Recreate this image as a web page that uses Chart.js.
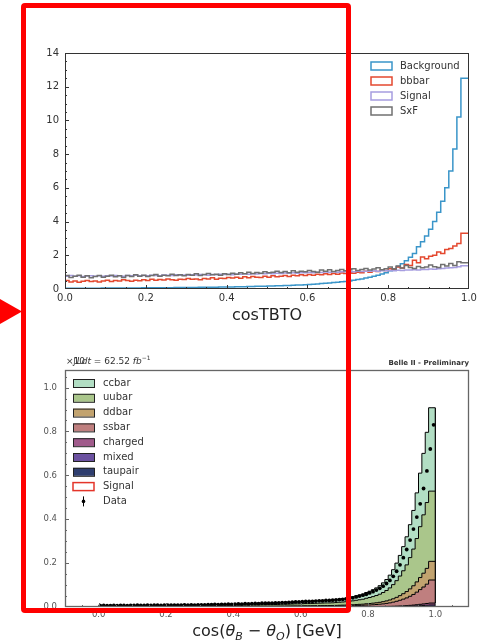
<!DOCTYPE html>
<html><head><meta charset="utf-8">
<script src="https://cdn.jsdelivr.net/npm/chart.js@4.4.0/dist/chart.umd.min.js"></script>
<style>
html,body{margin:0;padding:0;background:#fff;width:483px;height:643px;overflow:hidden;}
#c1{position:absolute;left:0;top:0;}
#c2{position:absolute;left:0;top:340px;}
#box{position:absolute;left:21px;top:3px;width:320px;height:600px;border:5px solid #ff0000;border-radius:4px;pointer-events:none;}
#arrow{position:absolute;left:0;top:299px;width:22px;height:25px;background:#ff0000;clip-path:polygon(0 0,100% 50%,0 100%);}
</style></head>
<body>
<canvas id="c1" width="483" height="330"></canvas>
<canvas id="c2" width="483" height="303"></canvas>
<div id="box"></div>
<div id="arrow"></div>
<script>
// ---------------- TOP PANEL DATA (100 bins over [0,1]) ----------------
const topRange = [0, 1];
const topSeriesNames = ['Background', 'bbbar', 'Signal', 'SxF'];
const background = [
 .04,.04,.045,.045,.045,.05,.05,.05,.05,.05,
 .055,.055,.055,.06,.06,.06,.06,.065,.065,.065,
 .07,.07,.07,.075,.075,.08,.08,.08,.085,.085,
 .09,.09,.095,.095,.10,.10,.105,.11,.11,.115,
 .12,.12,.125,.13,.135,.14,.145,.15,.16,.165,
 .17,.175,.18,.19,.20,.205,.21,.22,.23,.24,
 .25,.265,.28,.30,.32,.335,.355,.38,.40,.425,
 .45,.48,.52,.56,.60,.65,.70,.76,.82,.89,
 .97,1.08,1.20,1.34,1.50,1.68,1.88,2.10,2.50,2.80,
 3.15,3.55,4.00,4.55,5.20,6.00,7.00,8.30,10.2,12.5];
const bbbar = [
 .45,.50,.42,.48,.40,.46,.50,.44,.47,.42,
 .48,.52,.45,.50,.47,.55,.50,.46,.52,.49,
 .55,.50,.58,.52,.56,.54,.60,.55,.52,.58,
 .56,.62,.58,.60,.55,.63,.60,.66,.58,.64,
 .62,.68,.65,.70,.64,.72,.66,.74,.70,.68,
 .75,.70,.78,.72,.76,.80,.74,.82,.78,.85,
 .80,.86,.82,.88,.84,.90,.86,.92,.88,.95,
 .92,.98,.94,1.00,.96,1.05,1.00,1.08,1.04,1.12,
 1.10,1.20,1.15,1.30,1.25,1.45,1.40,1.70,1.55,1.90,
 1.80,1.95,2.00,2.20,2.10,2.35,2.40,2.55,2.70,3.30];
const signalTop = [
 .78,.75,.80,.76,.78,.74,.77,.79,.75,.78,
 .76,.79,.77,.80,.78,.76,.80,.78,.81,.79,
 .80,.78,.82,.80,.79,.83,.81,.80,.84,.82,
 .83,.81,.85,.83,.86,.84,.82,.86,.85,.87,
 .86,.88,.85,.89,.87,.90,.88,.91,.89,.92,
 .90,.93,.91,.94,.92,.95,.93,.96,.94,.97,
 .96,.98,.97,1.00,.98,1.01,.99,1.02,1.00,1.03,
 1.02,1.04,1.03,1.05,1.04,1.06,1.05,1.08,1.06,1.09,
 1.08,1.10,1.09,1.11,1.10,1.13,1.12,1.14,1.13,1.15,
 1.16,1.18,1.17,1.20,1.22,1.24,1.26,1.28,1.32,1.38];
const sxf = [
 .72,.80,.68,.75,.82,.70,.78,.66,.74,.80,
 .70,.76,.82,.72,.78,.68,.80,.74,.84,.76,
 .82,.74,.80,.86,.76,.82,.78,.88,.80,.84,
 .78,.86,.82,.90,.80,.86,.92,.84,.88,.82,
 .90,.86,.94,.88,.96,.90,1.00,.92,.98,.94,
 1.02,.96,1.00,1.06,.98,1.04,.96,1.08,1.00,1.06,
 1.02,1.10,1.04,1.00,1.12,1.06,1.14,1.04,1.10,1.16,
 1.08,1.14,1.20,1.10,1.16,1.22,1.12,1.18,1.26,1.14,
 1.20,1.30,1.18,1.36,1.24,1.40,1.28,1.22,1.34,1.26,
 1.30,1.42,1.32,1.28,1.46,1.36,1.52,1.40,1.62,1.56];
const topXTicks = [0, 0.2, 0.4, 0.6, 0.8, 1.0];
const topYTicks = [0, 2, 4, 6, 8, 10, 12, 14];

// ---------------- BOTTOM PANEL DATA (100 bins over [0,1]) ----------------
const botRange = [0, 1];
const botLegendNames = ['ccbar','uubar','ddbar','ssbar','charged','mixed','taupair','Signal','Data'];
const ccbar = [
 .0024,.0024,.0024,.0028,.0024,.0028,.0028,.0024,.0028,.0028,
 .0028,.0028,.0032,.0028,.0032,.0032,.0028,.0032,.0032,.0032,
 .0032,.0036,.0032,.0036,.0036,.0036,.0040,.0036,.0040,.0040,
 .0040,.0044,.0040,.0044,.0044,.0048,.0044,.0048,.0048,.0052,
 .0052,.0056,.0056,.0056,.0060,.0060,.0064,.0064,.0068,.0068,
 .0072,.0072,.0076,.0076,.0080,.0084,.0084,.0088,.0092,.0096,
 .0096,.0100,.0104,.0104,.0108,.0112,.0116,.0120,.0124,.0124,
 .0128,.0136,.0144,.0152,.0160,.0172,.0188,.0204,.0220,.0236,
 .0264,.0288,.0316,.0348,.0388,.0440,.0500,.0580,.0680,.0800,
 .0940,.1100,.1280,.1500,.1760,.2080,.2440,.2800,.3200,.3800];
const uubar = [
 .0023,.0023,.0023,.0027,.0023,.0027,.0027,.0023,.0027,.0027,
 .0027,.0027,.0030,.0027,.0030,.0030,.0027,.0030,.0030,.0030,
 .0030,.0034,.0030,.0034,.0034,.0034,.0038,.0034,.0038,.0038,
 .0038,.0042,.0038,.0042,.0042,.0046,.0042,.0046,.0046,.0049,
 .0049,.0053,.0053,.0053,.0057,.0057,.0061,.0061,.0065,.0065,
 .0068,.0068,.0072,.0072,.0076,.0080,.0080,.0084,.0087,.0091,
 .0091,.0095,.0099,.0099,.0103,.0106,.0110,.0114,.0118,.0118,
 .0122,.0129,.0137,.0144,.0152,.0163,.0179,.0194,.0209,.0224,
 .0251,.0274,.0300,.0331,.0369,.0418,.0475,.0551,.0646,.0760,
 .0893,.1045,.1216,.1425,.1672,.1976,.2318,.2660,.3000,.3200];
const ddbar = [
 .0005,.0005,.0005,.0006,.0005,.0006,.0006,.0005,.0006,.0006,
 .0006,.0006,.0007,.0006,.0007,.0007,.0006,.0007,.0007,.0007,
 .0007,.0008,.0007,.0008,.0008,.0008,.0009,.0008,.0009,.0009,
 .0009,.0010,.0009,.0010,.0010,.0011,.0010,.0011,.0011,.0012,
 .0012,.0013,.0013,.0013,.0014,.0014,.0014,.0014,.0015,.0015,
 .0016,.0016,.0017,.0017,.0018,.0019,.0019,.0020,.0021,.0022,
 .0022,.0023,.0023,.0023,.0024,.0025,.0026,.0027,.0028,.0028,
 .0029,.0031,.0032,.0034,.0036,.0039,.0042,.0046,.0050,.0053,
 .0059,.0065,.0071,.0078,.0087,.0099,.0113,.0131,.0153,.0180,
 .0212,.0248,.0288,.0338,.0396,.0468,.0549,.0630,.0720,.0850];
const ssbar = [
 .0007,.0007,.0007,.0008,.0007,.0008,.0008,.0007,.0008,.0008,
 .0008,.0008,.0009,.0008,.0009,.0009,.0008,.0009,.0009,.0009,
 .0009,.0010,.0009,.0010,.0010,.0010,.0011,.0010,.0011,.0011,
 .0011,.0012,.0011,.0012,.0012,.0013,.0012,.0013,.0013,.0014,
 .0014,.0015,.0015,.0015,.0017,.0017,.0018,.0018,.0019,.0019,
 .0020,.0020,.0021,.0021,.0022,.0023,.0023,.0024,.0025,.0026,
 .0026,.0028,.0029,.0029,.0030,.0031,.0032,.0033,.0034,.0034,
 .0035,.0037,.0040,.0042,.0044,.0047,.0052,.0056,.0061,.0065,
 .0073,.0079,.0087,.0096,.0107,.0121,.0138,.0160,.0187,.0220,
 .0259,.0303,.0352,.0413,.0484,.0572,.0671,.0770,.0880,.1050];
const charged = [
 .0001,.0001,.0001,.0001,.0001,.0001,.0001,.0001,.0001,.0001,
 .0001,.0001,.0001,.0001,.0001,.0001,.0001,.0001,.0001,.0001,
 .0001,.0001,.0001,.0001,.0001,.0001,.0001,.0001,.0001,.0001,
 .0001,.0001,.0001,.0001,.0001,.0001,.0001,.0001,.0001,.0001,
 .0001,.0001,.0001,.0001,.0002,.0002,.0002,.0002,.0002,.0002,
 .0002,.0002,.0002,.0002,.0002,.0002,.0002,.0002,.0002,.0002,
 .0002,.0002,.0003,.0003,.0003,.0003,.0003,.0003,.0003,.0003,
 .0003,.0003,.0004,.0004,.0004,.0004,.0005,.0005,.0006,.0006,
 .0007,.0007,.0008,.0009,.0010,.0011,.0013,.0015,.0017,.0020,
 .0024,.0028,.0032,.0038,.0044,.0052,.0061,.0070,.0080,.0090];
const mixed = [
 .0001,.0001,.0001,.0001,.0001,.0001,.0001,.0001,.0001,.0001,
 .0001,.0001,.0001,.0001,.0001,.0001,.0001,.0001,.0001,.0001,
 .0001,.0001,.0001,.0001,.0001,.0001,.0001,.0001,.0001,.0001,
 .0001,.0001,.0001,.0001,.0001,.0001,.0001,.0001,.0001,.0001,
 .0001,.0001,.0001,.0001,.0001,.0001,.0001,.0001,.0001,.0001,
 .0001,.0001,.0001,.0001,.0001,.0001,.0001,.0001,.0001,.0001,
 .0002,.0002,.0002,.0002,.0002,.0002,.0002,.0002,.0002,.0002,
 .0002,.0002,.0003,.0003,.0003,.0003,.0003,.0004,.0004,.0004,
 .0005,.0005,.0006,.0006,.0007,.0008,.0009,.0010,.0012,.0014,
 .0016,.0019,.0022,.0026,.0031,.0036,.0043,.0049,.0056,.0063];
const taupair = [
 .00005,.00005,.00005,.00005,.00005,.00005,.00005,.00005,.00005,.00005,
 .00005,.00005,.00005,.00005,.00005,.00005,.00005,.00005,.00005,.00005,
 .00005,.00005,.00005,.00005,.00005,.00005,.00005,.00005,.00005,.00005,
 .00005,.00005,.00005,.00005,.00005,.00005,.00005,.00005,.00005,.00005,
 .00005,.00005,.00005,.00005,.00005,.00005,.00005,.00005,.00005,.00005,
 .00005,.00005,.00005,.00005,.00005,.00005,.00005,.00005,.00005,.00005,
 .00005,.00005,.00005,.00005,.00005,.00005,.00005,.00005,.00005,.00005,
 .00005,.00005,.00005,.00005,.00005,.00005,.00005,.00005,.00005,.00005,
 .0002,.0002,.0002,.0003,.0003,.0003,.0004,.0004,.0005,.0006,
 .0007,.0008,.0009,.0011,.0013,.0016,.0018,.0021,.0024,.0027];
const signalBot = [
 .0002,.0002,.0002,.0002,.0002,.0002,.0002,.0002,.0002,.0002,
 .0002,.0002,.0002,.0002,.0002,.0002,.0002,.0002,.0002,.0002,
 .0002,.0002,.0002,.0002,.0002,.0002,.0002,.0002,.0002,.0002,
 .0002,.0002,.0002,.0002,.0002,.0002,.0002,.0002,.0002,.0002,
 .0002,.0002,.0002,.0002,.0002,.0002,.0002,.0002,.0002,.0002,
 .0002,.0002,.0002,.0002,.0002,.0002,.0002,.0002,.0002,.0002,
 .0002,.0002,.0002,.0002,.0002,.0002,.0002,.0002,.0002,.0002,
 .0002,.0002,.0002,.0002,.0002,.0002,.0002,.0002,.0002,.0002,
 .0003,.0003,.0004,.0004,.0005,.0005,.0006,.0006,.0007,.0008,
 .0009,.0010,.0011,.0012,.0014,.0016,.0018,.0021,.0024,.0028];
const dataPts = [
 .006,.007,.006,.006,.007,.006,.007,.007,.006,.007,
 .007,.008,.007,.007,.008,.007,.008,.008,.007,.008,
 .008,.009,.009,.008,.009,.010,.009,.010,.009,.010,
 .010,.010,.011,.011,.012,.011,.012,.012,.013,.012,
 .013,.014,.013,.015,.014,.015,.016,.015,.017,.017,
 .018,.017,.019,.019,.020,.020,.021,.022,.023,.023,
 .024,.025,.025,.026,.027,.028,.028,.030,.030,.031,
 .032,.034,.035,.037,.040,.042,.046,.050,.054,.058,
 .064,.070,.077,.085,.095,.107,.121,.140,.163,.192,
 .225,.262,.305,.355,.410,.470,.540,.620,.720,.830];
const botXTicks = [0, 0.2, 0.4, 0.6, 0.8, 1.0];
const botYTicks = [0, 0.2, 0.4, 0.6, 0.8, 1.0];

// ---------------- helpers ----------------
const FONT = '"DejaVu Sans", "Liberation Sans", sans-serif';
function stepPoints(vals, range, closeToZero) {
  const w = (range[1] - range[0]) / vals.length;
  const pts = vals.map((v, i) => ({x: range[0] + i * w, y: v}));
  pts.push({x: range[1], y: vals[vals.length - 1]});
  if (closeToZero) { pts.unshift({x: range[0], y: 0}); pts.push({x: range[1], y: 0}); }
  return pts;
}
function centerPoints(vals, range) {
  const w = (range[1] - range[0]) / vals.length;
  return vals.map((v, i) => ({x: range[0] + (i + 0.5) * w, y: v}));
}
function seq(lo, hi, step) { const o = []; for (let k = 0; lo + k * step <= hi + 1e-9; k++) o.push(lo + k * step); return o; }
function drawRich(ctx, segs, x0, cy, size, color, align) {
  const fontFor = s => `${s.b ? 'bold ' : ''}${s.it ? 'italic ' : ''}${(s.sub || s.sup) ? Math.round(size * 0.7) : size}px ${FONT}`;
  let w = 0;
  segs.forEach(s => { ctx.font = fontFor(s); s.w = ctx.measureText(s.t).width; w += s.w; });
  let x = align === 'center' ? x0 - w / 2 : (align === 'right' ? x0 - w : x0);
  ctx.fillStyle = color; ctx.textBaseline = 'middle'; ctx.textAlign = 'left';
  segs.forEach(s => {
    ctx.font = fontFor(s);
    ctx.fillText(s.t, x, cy + (s.sub ? size * 0.3 : 0) + (s.sup ? -size * 0.4 : 0));
    x += s.w;
  });
}

const decor = {
  id: 'decor',
  afterDatasetsDraw(chart, args, o) {
    if (o.edgeFrom == null) return;
    const {ctx, scales: {y}} = chart;
    const meta = chart.getDatasetMeta(o.edgeFrom);
    const last = meta.data[meta.data.length - 1];
    ctx.save();
    ctx.strokeStyle = '#000'; ctx.lineWidth = 1.2;
    ctx.beginPath(); ctx.moveTo(last.x, last.y); ctx.lineTo(last.x, y.getPixelForValue(0)); ctx.stroke();
    ctx.restore();
  },
  afterDraw(chart, args, o) {
    const {ctx, chartArea: a, scales: {x, y}} = chart;
    ctx.save();
    ctx.strokeStyle = o.frameColor; ctx.lineWidth = o.frameWidth;
    ctx.strokeRect(a.left + 0.5, a.top + 0.5, a.right - a.left - 1, a.bottom - a.top - 1);
    ctx.strokeStyle = o.frameColor; ctx.lineWidth = 1;
    const tickX = (vals, len) => vals.forEach(v => {
      const px = Math.round(x.getPixelForValue(v)) + 0.5;
      if (px < a.left || px > a.right) return;
      ctx.beginPath(); ctx.moveTo(px, a.bottom); ctx.lineTo(px, a.bottom - len); ctx.stroke();
    });
    const tickY = (vals, len) => vals.forEach(v => {
      const py = Math.round(y.getPixelForValue(v)) + 0.5;
      if (py < a.top || py > a.bottom) return;
      ctx.beginPath(); ctx.moveTo(a.left, py); ctx.lineTo(a.left + len, py); ctx.stroke();
    });
    tickX(o.xMajor, 4); tickX(seq(o.xMinor[0], o.xMinor[1], o.xMinor[2]), 2);
    tickY(o.yMajor, 4); tickY(seq(o.yMinor[0], o.yMinor[1], o.yMinor[2]), 2);
    const L = o.legend;
    L.items.forEach((it, i) => {
      const yy = L.y0 + i * L.dy;
      if (it.kind === 'outline') {
        ctx.strokeStyle = it.color; ctx.lineWidth = 1.5;
        ctx.strokeRect(L.bx, yy - 4, L.bw, 8);
      } else if (it.kind === 'fill') {
        ctx.fillStyle = it.color; ctx.fillRect(L.bx, yy - 4, L.bw, 8);
        ctx.strokeStyle = '#222'; ctx.lineWidth = 1; ctx.strokeRect(L.bx + 0.5, yy - 3.5, L.bw, 8);
      } else if (it.kind === 'err') {
        const cx = L.bx + L.bw / 2;
        ctx.strokeStyle = '#000'; ctx.lineWidth = 1;
        ctx.beginPath(); ctx.moveTo(cx, yy - 5); ctx.lineTo(cx, yy + 5); ctx.stroke();
        ctx.fillStyle = '#000'; ctx.beginPath(); ctx.arc(cx, yy, 1.8, 0, Math.PI * 2); ctx.fill();
      }
      ctx.fillStyle = '#333'; ctx.font = `10px ${FONT}`; ctx.textBaseline = 'middle'; ctx.textAlign = 'left';
      ctx.fillText(it.label, L.tx, yy);
    });
    (o.texts || []).forEach(t => drawRich(ctx, t.segs, t.x, t.y, t.size, t.color, t.align));
    ctx.restore();
  }
};

// ---------------- TOP CHART ----------------
const topColors = ['#3a95c9', '#e4482f', '#a69de0', '#707070'];
const topVals = [background, bbbar, signalTop, sxf];
new Chart(document.getElementById('c1'), {
  type: 'line',
  data: {
    datasets: topVals.map((vals, i) => ({
      label: topSeriesNames[i],
      data: stepPoints(vals, topRange, true),
      borderColor: topColors[i], borderWidth: 1.5, pointRadius: 0,
      stepped: 'after', fill: false, order: 4 - i
    }))
  },
  options: {
    responsive: false, animation: false, events: [],
    layout: {padding: {top: 53, right: 14, left: 0, bottom: 0}},
    plugins: {
      legend: {display: false}, tooltip: {enabled: false},
      decor: {
        frameColor: '#333', frameWidth: 1,
        xMajor: topXTicks, xMinor: [0, 1, 0.05],
        yMajor: topYTicks, yMinor: [0, 14, 0.5],
        legend: {bx: 371, bw: 21, tx: 400, y0: 66, dy: 15,
          items: topSeriesNames.map((n, i) => ({label: n, kind: 'outline', color: topColors[i]}))},
        texts: [{segs: [{t: 'cosTBTO'}], x: 267, y: 316, size: 16, color: '#222', align: 'center'}]
      }
    },
    scales: {
      x: {type: 'linear', min: 0, max: 1,
        afterBuildTicks: s => { s.ticks = topXTicks.map(v => ({value: v})); },
        afterFit: s => { s.height = 41; },
        grid: {display: false, drawTicks: false}, border: {display: false},
        ticks: {padding: 3, autoSkip: false, maxRotation: 0, color: '#333',
          font: {family: FONT, size: 10}, callback: v => v.toFixed(1)}},
      y: {type: 'linear', min: 0, max: 14,
        afterBuildTicks: s => { s.ticks = topYTicks.map(v => ({value: v})); },
        afterFit: s => { s.width = 65; },
        grid: {display: false, drawTicks: false}, border: {display: false},
        ticks: {padding: 6, color: '#333', font: {family: FONT, size: 10}, callback: v => String(v)}}
    }
  },
  plugins: [decor]
});

// ---------------- BOTTOM CHART ----------------
const stackNames = ['taupair', 'mixed', 'charged', 'ssbar', 'ddbar', 'uubar', 'ccbar'];
const stackVals = [taupair, mixed, charged, ssbar, ddbar, uubar, ccbar];
const stackColors = {
  ccbar: '#b2dec4', uubar: '#aac68b', ddbar: '#c2a36f', ssbar: '#bf7f7f',
  charged: '#a05b8b', mixed: '#6b51a0', taupair: '#2f3e6f'
};
const botDatasets = stackVals.map((vals, i) => ({
  label: stackNames[i],
  data: stepPoints(vals, botRange, false),
  borderColor: '#000', borderWidth: 1, pointRadius: 0,
  backgroundColor: stackColors[stackNames[i]],
  stepped: 'after', fill: i === 0 ? 'origin' : '-1', stack: 'mc'
}));
botDatasets.push({
  label: 'Signal', data: stepPoints(signalBot, botRange, false),
  borderColor: '#e4352a', borderWidth: 1, pointRadius: 0, stepped: 'after', fill: false, stack: 'sig'
});
botDatasets.push({
  label: 'Data', data: centerPoints(dataPts, botRange), showLine: false,
  pointRadius: 1.9, pointBackgroundColor: '#000', pointBorderWidth: 0, stack: 'data', order: -1
});

new Chart(document.getElementById('c2'), {
  type: 'line',
  data: {datasets: botDatasets},
  options: {
    responsive: false, animation: false, events: [],
    layout: {padding: {top: 30, right: 14, left: 0, bottom: 0}},
    plugins: {
      legend: {display: false}, tooltip: {enabled: false},
      decor: {
        edgeFrom: 6,
        frameColor: '#666', frameWidth: 1.3,
        xMajor: botXTicks, xMinor: [-0.1, 1.1, 0.05],
        yMajor: botYTicks, yMinor: [0, 1.05, 0.05],
        legend: {bx: 73, bw: 21, tx: 103, y0: 43, dy: 14.8,
          items: botLegendNames.map(n => n === 'Signal' ? {label: n, kind: 'outline', color: '#e4352a'}
            : n === 'Data' ? {label: n, kind: 'err'} : {label: n, kind: 'fill', color: stackColors[n]})},
        texts: [
          {segs: [{t: '×10'}], x: 66, y: 22, size: 9, color: '#333', align: 'left'},
          {segs: [{t: '∫'}, {t: 'L', it: 1}, {t: 'dt', it: 1}, {t: ' = 62.52 '}, {t: 'fb', it: 1}, {t: '−1', sup: 1}],
            x: 72, y: 22, size: 9, color: '#333', align: 'left'},
          {segs: [{t: 'Belle II - Preliminary', b: 1}], x: 469, y: 23, size: 7, color: '#333', align: 'right'},
          {segs: [{t: 'cos('}, {t: 'θ', it: 1}, {t: 'B', it: 1, sub: 1}, {t: ' − '}, {t: 'θ', it: 1}, {t: 'O', it: 1, sub: 1}, {t: ') [GeV]'}],
            x: 267, y: 292, size: 16, color: '#222', align: 'center'}
        ]
      }
    },
    scales: {
      x: {type: 'linear', min: -0.1, max: 1.1,
        afterBuildTicks: s => { s.ticks = botXTicks.map(v => ({value: v})); },
        afterFit: s => { s.height = 36; },
        grid: {display: false, drawTicks: false}, border: {display: false},
        ticks: {padding: 3, autoSkip: false, maxRotation: 0, color: '#555',
          font: {family: FONT, size: 8.5}, callback: v => v.toFixed(1)}},
      y: {type: 'linear', min: 0, max: 1.08, stacked: true,
        afterBuildTicks: s => { s.ticks = botYTicks.map(v => ({value: v})); },
        afterFit: s => { s.width = 65; },
        grid: {display: false, drawTicks: false}, border: {display: false},
        ticks: {padding: 8, color: '#555', font: {family: FONT, size: 8.5}, callback: v => v.toFixed(1)}}
    }
  },
  plugins: [decor]
});
</script>
</body></html>
